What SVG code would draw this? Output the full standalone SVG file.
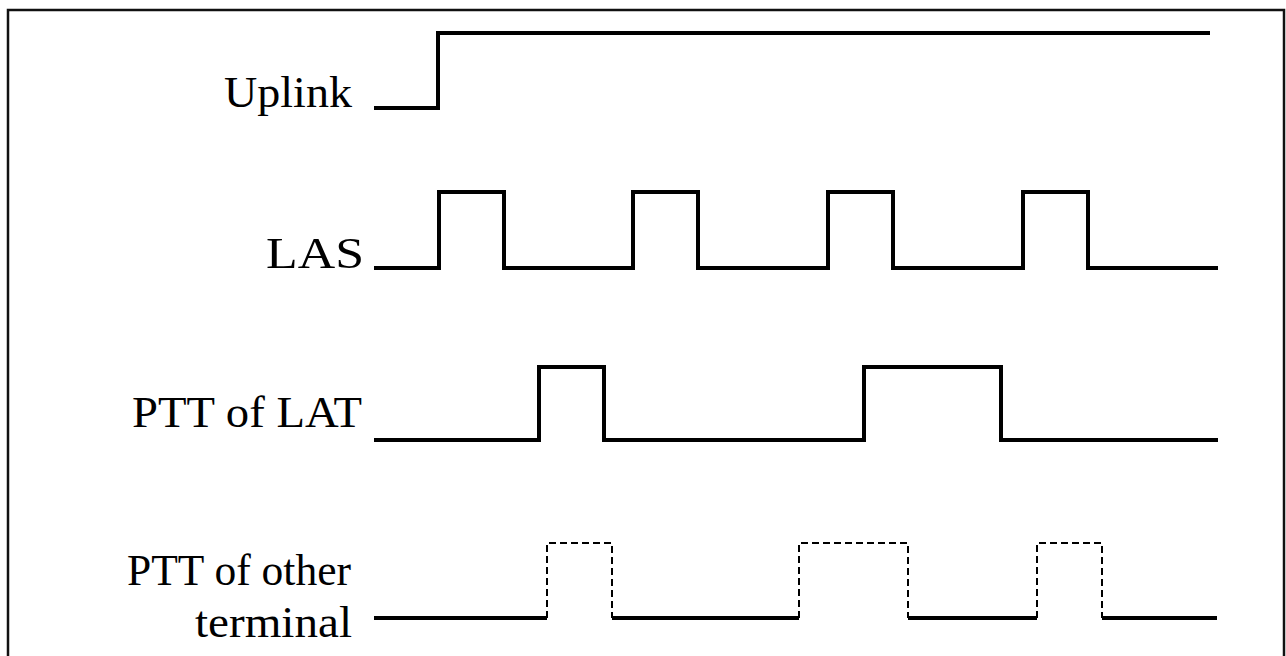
<svg xmlns="http://www.w3.org/2000/svg" width="1286" height="656" viewBox="0 0 1286 656">
<style>
.sig{fill:none;stroke:#000;stroke-width:4;stroke-linejoin:miter;stroke-linecap:butt}
.dash{fill:none;stroke:#000;stroke-width:2;stroke-dasharray:7,4}
.lbl{font-family:"Liberation Serif","Times New Roman",serif;font-size:45px;fill:#000;text-anchor:end}
</style>
<rect x="0" y="0" width="1286" height="656" fill="#fff"/>
<rect x="8" y="10" width="1276" height="670" fill="none" stroke="#111" stroke-width="2.5"/>
<g id="uplink">
<text class="lbl" x="352" y="107" textLength="128" lengthAdjust="spacingAndGlyphs">Uplink</text>
</g>
<g id="las">
<text class="lbl" x="364" y="268" textLength="98" lengthAdjust="spacingAndGlyphs">LAS</text>
</g>
<g id="ptt-lat">
<text class="lbl" x="362" y="427" textLength="230" lengthAdjust="spacingAndGlyphs">PTT of LAT</text>
</g>
<g id="ptt-other">
<text class="lbl" x="351" y="585" textLength="224" lengthAdjust="spacingAndGlyphs">PTT of other</text>
<text class="lbl" x="352" y="637" textLength="157" lengthAdjust="spacingAndGlyphs">terminal</text>
</g>
<g id="connectors">
<polyline class="sig" points="374,108 438,108 438,33 1210,33"/>
<polyline class="sig" points="374,268 439,268 439,192 504,192 504,268 633,268 633,192 698,192 698,268 828,268 828,192 893,192 893,268 1023,268 1023,192 1088,192 1088,268 1218,268"/>
<polyline class="sig" points="374,440 539,440 539,367 604,367 604,440 864,440 864,367 1001,367 1001,440 1218,440"/>
<polyline class="sig" points="374,618 547,618"/>
<polyline class="sig" points="612,618 799,618"/>
<polyline class="sig" points="908,618 1037,618"/>
<polyline class="sig" points="1102,618 1217,618"/>
<polyline class="dash" points="547,618 547,543 612,543 612,618"/>
<polyline class="dash" points="799,618 799,543 908,543 908,618"/>
<polyline class="dash" points="1037,618 1037,543 1102,543 1102,618"/>
</g>
</svg>
